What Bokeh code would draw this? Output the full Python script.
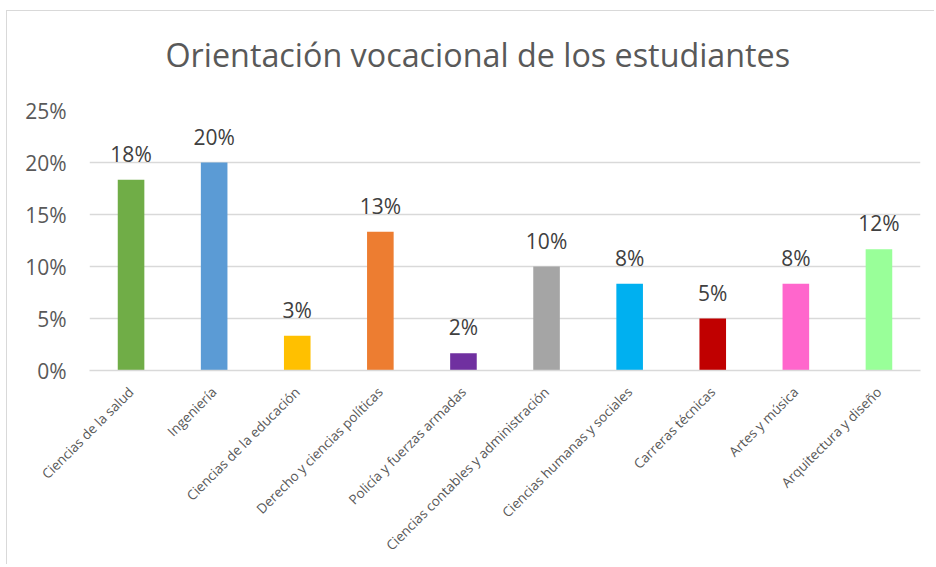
from bokeh.plotting import figure
from bokeh.models import ColumnDataSource, FactorRange, NumeralTickFormatter, FixedTicker, Range1d, Title
from bokeh.core.properties import value
from bokeh.embed import file_html
from bokeh.resources import INLINE
import math

categories = ["Ciencias de la salud", "Ingeniería", "Ciencias de la educación",
              "Derecho y ciencias políticas", "Policía y fuerzas armadas",
              "Ciencias contables y administración", "Ciencias humanas y sociales",
              "Carreras técnicas", "Artes y música", "Arquitectura y diseño"]
shares = [0.1833, 0.2000, 0.0333, 0.1333, 0.0167, 0.1000, 0.0833, 0.0500, 0.0833, 0.1167]
bar_colors = ["#70AD47", "#5B9BD5", "#FFC000", "#ED7D31", "#7030A0",
              "#A5A5A5", "#00B0F0", "#C00000", "#FF66CC", "#99FF99"]
y_ticks = [0, 0.05, 0.10, 0.15, 0.20, 0.25]
title_text = "Orientación vocacional de los estudiantes"

labels = [f"{round(v * 100)}%" for v in shares]
src = ColumnDataSource(dict(cat=categories, val=shares, color=bar_colors, label=labels))

FONT = "Open Sans"

p = figure(x_range=FactorRange(factors=categories, range_padding=0),
           y_range=Range1d(0, 0.25),
           width=928, height=554, output_backend="svg", toolbar_location=None,
           min_border_left=82, min_border_right=15, min_border_top=99, min_border_bottom=195)
p.styles = {"border-left": "1px solid #d9d9d9", "border-top": "1px solid #d9d9d9",
            "margin-top": "10px", "margin-left": "6px"}
p.title = None

# spacer panel next to the plot area, then the real title above it
spacer = Title(text=" ", text_font_size="1px", standoff=30)
p.add_layout(spacer, "above")
main_title = Title(text=title_text, text_font=FONT, text_font_size="32.3px",
                   text_font_style="normal", text_color="#595959",
                   align="left", offset=76, vertical_align="top", standoff=0)
p.add_layout(main_title, "above")

p.vbar(x="cat", top="val", width=0.32, color="color", source=src, line_color=None)
p.text(x="cat", y="val", text="label", source=src, text_align="center",
       text_baseline="alphabetic", y_offset=-26, text_font=value(FONT),
       text_font_size="21px", text_color="#404040")

p.outline_line_color = None
p.xgrid.grid_line_color = None
p.ygrid.grid_line_color = "#d9d9d9"
p.ygrid.grid_line_width = 1.5
p.ygrid.ticker = FixedTicker(ticks=y_ticks)

p.yaxis.ticker = FixedTicker(ticks=y_ticks)
p.yaxis.formatter = NumeralTickFormatter(format="0%")
p.yaxis.axis_line_color = None
p.yaxis.major_tick_line_color = None
p.yaxis.minor_tick_line_color = None
p.yaxis.major_tick_out = 0
p.yaxis.major_tick_in = 0
p.yaxis.major_label_standoff = 23
p.yaxis.major_label_text_font = FONT
p.yaxis.major_label_text_font_size = "21px"
p.yaxis.major_label_text_color = "#595959"

p.xaxis.axis_line_color = "#d9d9d9"
p.xaxis.axis_line_width = 1.5
p.xaxis.major_tick_line_color = None
p.xaxis.major_tick_out = 0
p.xaxis.major_tick_in = 0
p.xaxis.major_label_orientation = math.pi / 4
p.xaxis.major_label_standoff = 19
p.xaxis.major_label_text_font = FONT
p.xaxis.major_label_text_font_size = "13.5px"
p.xaxis.major_label_text_color = "#595959"

open("out.html", "w").write(file_html(p, INLINE))
